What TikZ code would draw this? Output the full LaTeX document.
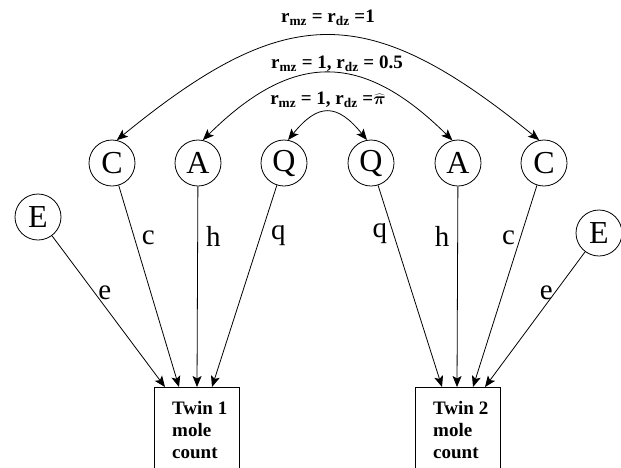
\documentclass[tikz,border=0pt]{standalone}
\usepackage{fontspec}
\setmainfont{Liberation Serif}
\usetikzlibrary{arrows.meta}
\newcommand{\pihat}{\mbox{\boldmath$\widehat{\pi}$}}
\begin{document}
\begin{tikzpicture}[x=1pt,y=-1pt,
  lat/.style={circle,draw,line width=0.8pt,minimum size=46pt,inner sep=0pt,font=\fontsize{32}{32}\selectfont},
  obs/.style={rectangle,draw,line width=0.8pt,minimum width=85pt,minimum height=120pt,anchor=north west,inner sep=0pt},
  arr/.style={-{Stealth[length=11pt,width=9pt,inset=2.5pt]},line width=0.8pt},
  dbl/.style={{Stealth[length=11pt,width=9pt,inset=2.5pt]}-{Stealth[length=11pt,width=9pt,inset=2.5pt]},line width=0.8pt},
  lab/.style={inner sep=1pt,font=\fontsize{29}{29}\selectfont},
  corr/.style={inner sep=0pt,font=\bfseries\fontsize{19}{19}\selectfont},
  boxtxt/.style={inner sep=0pt,anchor=north west,align=left,font=\bfseries\fontsize{19}{22}\selectfont}]
\clip (0,0) rectangle (621,467);
% latent variables
\node[lat] (E1) at (38,217) {E};
\node[lat] (C1) at (112,163) {C};
\node[lat] (A1) at (198,163) {A};
\node[lat] (Q1) at (284,163) {Q};
\node[lat] (Q2) at (371,163) {Q};
\node[lat] (A2) at (458,163) {A};
\node[lat] (C2) at (544,163) {C};
\node[lat] (E2) at (599,233) {E};
% observed boxes
\node[obs] (T1) at (154,387) {};
\node[obs] (T2) at (415,387) {};
\node[boxtxt] (T1t) at (172,401) {Twin 1\\mole\\count};
\node[boxtxt] (T2t) at (433,401) {Twin 2\\mole\\count};
% arrow targets on box tops
\coordinate (T1e) at (165,387);
\coordinate (T1c) at (179,387);
\coordinate (T1h) at (197,387);
\coordinate (T1q) at (212,387);
\coordinate (T2q) at (442,387);
\coordinate (T2h) at (457,387);
\coordinate (T2c) at (473,387);
\coordinate (T2e) at (485,387);
% paths
\draw[arr] (E1) -- (T1e) node[lab,pos=0.38,right=2pt] {e};
\draw[arr] (C1) -- (T1c) node[lab,pos=0.26,right=6pt] {c};
\draw[arr] (A1) -- (T1h) node[lab,pos=0.25,right=7pt] {h};
\draw[arr] (Q1) -- (T1q) node[lab,pos=0.25,right=9pt] {q};
\draw[arr] (Q2) -- (T2q) node[lab,pos=0.24,left=5pt] {q};
\draw[arr] (A2) -- (T2h) node[lab,pos=0.25,left=7pt] {h};
\draw[arr] (C2) -- (T2c) node[lab,pos=0.26,left=4pt] {c};
\draw[arr] (E2) -- (T2e) node[lab,pos=0.30,left=1pt] {e};
% correlations
\draw[dbl] (C1.78) .. controls (287,1) and (368,1) .. (C2.102);
\draw[dbl] (A1.78) .. controls (293,51) and (362,51) .. (A2.104);
\draw[dbl] (Q1.80) .. controls (318,103) and (337,103) .. (Q2.100);
\node[corr] (L1) at (328,18) {r\textsubscript{mz} = r\textsubscript{dz} =1};
\node[corr] (L2) at (337,64) {r\textsubscript{mz} = 1, r\textsubscript{dz} = 0.5};
\node[corr] (L3) at (328,100) {r\textsubscript{mz} = 1, r\textsubscript{dz} =\pihat};
\end{tikzpicture}
\end{document}
